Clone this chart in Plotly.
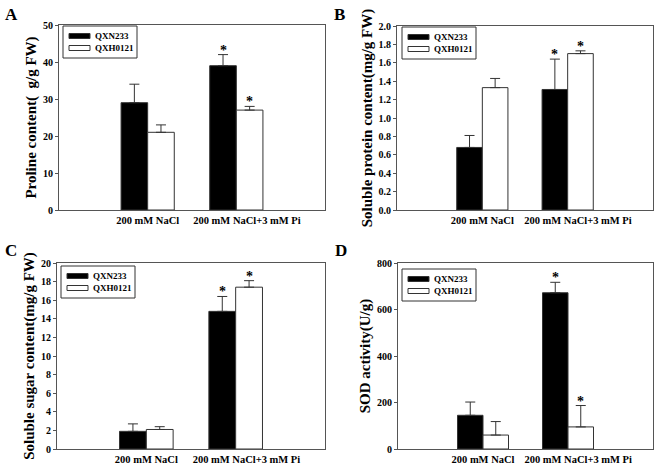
import plotly.graph_objects as go

categories = ["200 mM NaCl", "200 mM NaCl+3 mM Pi"]
series_names = ["QXN233", "QXH0121"]

proline_qxn = [29, 39]
proline_qxn_err = [5, 3]
proline_qxh = [21, 27]
proline_qxh_err = [2, 1]
proline_sig = [[False, True], [False, True]]

protein_qxn = [0.68, 1.31]
protein_qxn_err = [0.13, 0.33]
protein_qxh = [1.33, 1.70]
protein_qxh_err = [0.10, 0.03]
protein_sig = [[False, True], [False, True]]

sugar_qxn = [1.9, 14.8]
sugar_qxn_err = [0.8, 1.6]
sugar_qxh = [2.1, 17.4]
sugar_qxh_err = [0.3, 0.7]
sugar_sig = [[False, True], [False, True]]

sod_qxn = [145, 672]
sod_qxn_err = [57, 45]
sod_qxh = [60, 95]
sod_qxh_err = [58, 92]
sod_sig = [[False, True], [False, True]]

panels = [
    dict(letter="A", title="Proline content(  g/g FW)", qxn=proline_qxn, qxn_err=proline_qxn_err,
         qxh=proline_qxh, qxh_err=proline_qxh_err, sig=proline_sig,
         yrange=[0, 50], dtick=10, fmt="d"),
    dict(letter="B", title="Soluble protein content(mg/g FW)", qxn=protein_qxn, qxn_err=protein_qxn_err,
         qxh=protein_qxh, qxh_err=protein_qxh_err, sig=protein_sig,
         yrange=[0, 2.0], dtick=0.2, fmt=".1f"),
    dict(letter="C", title="Soluble sugar content(mg/g FW)", qxn=sugar_qxn, qxn_err=sugar_qxn_err,
         qxh=sugar_qxh, qxh_err=sugar_qxh_err, sig=sugar_sig,
         yrange=[0, 20], dtick=2, fmt="d"),
    dict(letter="D", title="SOD activity(U/g)", qxn=sod_qxn, qxn_err=sod_qxn_err,
         qxh=sod_qxh, qxh_err=sod_qxh_err, sig=sod_sig,
         yrange=[0, 800], dtick=200, fmt="d"),
]

W, H = 660, 468
# plot-area boxes in pixels: (left, right, top, bottom)
boxes = [(59, 325, 25, 210), (397, 653, 26, 210), (57, 325, 263, 449), (398, 653, 263, 449)]
letter_pos = [(3, 3), (332, 3), (3, 239), (333, 239)]
legend_off = [(4, 1), (5, 1), (4, 3), (4, 6)]
label_shift = [0.0, 0.12]   # horizontal nudge of the category labels, in axis units

FONT = "Liberation Serif"
AX = "#555555"
EDGE = "#333333"
BARW = 0.3
xpos = [1, 2]


def px(x):
    return x / W


def py(y):
    return 1 - y / H


fig = go.Figure()
annotations = []
shapes = []
layout = {}

for i, p in enumerate(panels):
    n = "" if i == 0 else str(i + 1)
    xa, ya = "x" + n, "y" + n
    l, r, t, b = boxes[i]
    for s, (vals, errs, color) in enumerate([(p["qxn"], p["qxn_err"], "black"),
                                             (p["qxh"], p["qxh_err"], "white")]):
        fig.add_trace(go.Bar(
            x=xpos, y=vals, name=series_names[s], width=BARW,
            offset=(-BARW if s == 0 else 0),
            marker=dict(color=color, line=dict(color=EDGE, width=1)),
            error_y=dict(type="data", array=errs, arrayminus=[0] * len(errs), symmetric=False,
                         color=EDGE, thickness=1, width=5),
            xaxis=xa, yaxis=ya, showlegend=False,
        ))
        for k in range(len(xpos)):
            if p["sig"][s][k]:
                annotations.append(dict(
                    x=xpos[k] + (-BARW / 2 if s == 0 else BARW / 2), y=vals[k] + errs[k],
                    xref=xa, yref=ya, text="<b>*</b>", showarrow=False, yanchor="bottom",
                    yshift=-5, font=dict(family=FONT, size=14, color="black")))
    layout["xaxis" + n] = dict(
        domain=[px(l), px(r)], anchor=ya, range=[0, 3],
        tickvals=[xv + d for xv, d in zip(xpos, label_shift)], ticktext=categories,
        tickangle=0, showline=True, linecolor=AX, linewidth=1, mirror=True, ticks="",
        showgrid=False, zeroline=False, automargin=False,
        tickfont=dict(family=FONT, size=10.5, color="black", weight="bold"), fixedrange=True)
    layout["yaxis" + n] = dict(
        domain=[py(b), py(t)], anchor=xa, range=p["yrange"], dtick=p["dtick"],
        tickformat=p["fmt"], showline=True, linecolor=AX, linewidth=1, mirror=True,
        ticks="outside", ticklen=3, tickcolor=AX, showgrid=False, zeroline=False,
        automargin=False,
        tickfont=dict(family=FONT, size=10, color="black", weight="bold"), fixedrange=True,
        title=dict(text=p["title"], standoff=2,
                   font=dict(family=FONT, size=15, color="black", weight="bold")))
    # legend box (drawn manually to match the flat swatches of the original)
    bx, by = l + legend_off[i][0], t + legend_off[i][1]
    shapes.append(dict(type="rect", xref="paper", yref="paper",
                       x0=px(bx), x1=px(bx + 74), y0=py(by), y1=py(by + 32),
                       line=dict(color=EDGE, width=1), fillcolor="white", layer="above"))
    for s, color in enumerate(["black", "white"]):
        cy = by + 10 + s * 12
        shapes.append(dict(type="rect", xref="paper", yref="paper",
                           x0=px(bx + 6), x1=px(bx + 27), y0=py(cy - 2.5), y1=py(cy + 2.5),
                           line=dict(color=EDGE, width=1), fillcolor=color, layer="above"))
        annotations.append(dict(
            x=px(bx + 30), y=py(cy), xref="paper", yref="paper", xanchor="left",
            yanchor="middle", text=series_names[s], showarrow=False,
            font=dict(family=FONT, size=9, color="black", weight="bold")))
    annotations.append(dict(
        x=px(letter_pos[i][0]), y=py(letter_pos[i][1]), xref="paper", yref="paper",
        xanchor="left", yanchor="top", text="<b>" + p["letter"] + "</b>", showarrow=False,
        font=dict(family=FONT, size=17, color="black")))

fig.update_layout(
    width=W, height=H, margin=dict(l=0, r=0, t=0, b=0),
    paper_bgcolor="white", plot_bgcolor="white",
    font=dict(family=FONT, color="black"),
    annotations=annotations, shapes=shapes, **layout)

fig.write_html("out.html", config={"displayModeBar": False},
               post_script="document.body.style.margin='0';document.body.style.overflow='hidden';")
